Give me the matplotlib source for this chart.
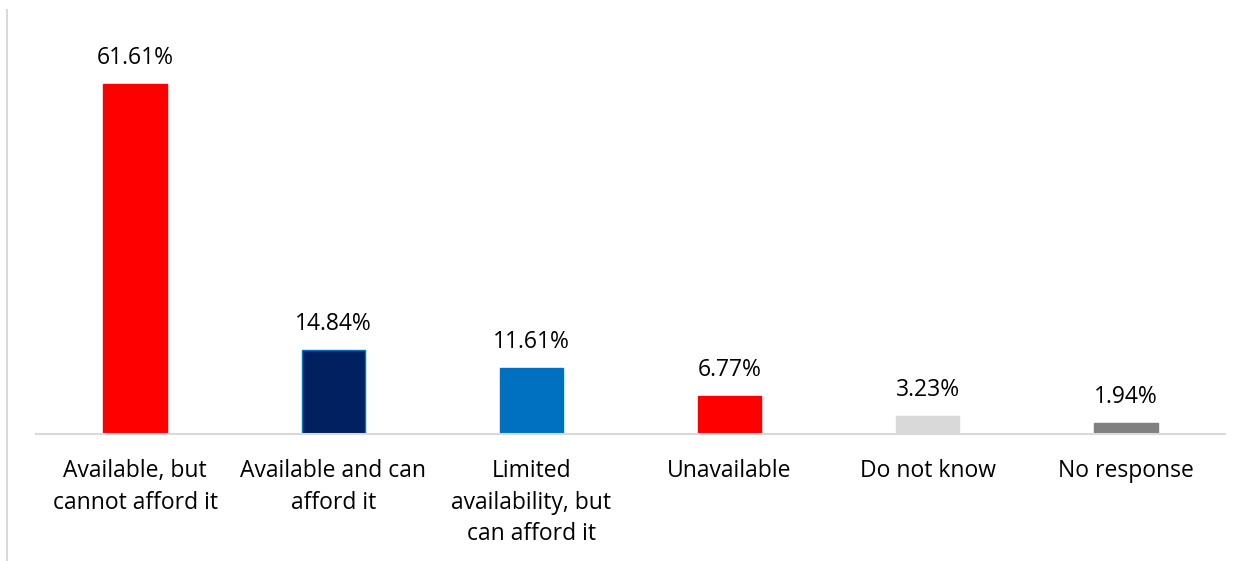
import matplotlib.pyplot as plt
from matplotlib.lines import Line2D

# chart data
categories = [
    "Available, but\ncannot afford it",
    "Available and can\nafford it",
    "Limited\navailability, but\ncan afford it",
    "Unavailable",
    "Do not know",
    "No response",
]
values = [61.61, 14.84, 11.61, 6.77, 3.23, 1.94]
colors = ["#FF0000", "#002060", "#0070C0", "#FF0000", "#D9D9D9", "#808080"]
edges = ["#FF0000", "#0070C0", "#0070C0", "#FF0000", "#D9D9D9", "#808080"]

plt.rcParams['font.family'] = ['Open Sans', 'DejaVu Sans']

fig = plt.figure(figsize=(12.53, 5.61), dpi=100)
ax = fig.add_axes([36 / 1253, 127 / 561, 1189 / 1253, 424 / 561])

x = range(len(categories))
bars = ax.bar(x, values, width=0.32, color=colors, edgecolor=edges, linewidth=1)

for b, v in zip(bars, values):
    ax.annotate(f"{v:.2f}%", (b.get_x() + b.get_width() / 2, v),
                xytext=(0, 10), textcoords="offset points",
                ha="center", va="bottom", fontsize=16.5, color="#000000")

ax.set_xlim(-0.5, 5.5)
ax.set_ylim(0, 424 / 5.68)
ax.set_xticks(list(x))
ax.set_xticklabels(categories, fontsize=16.5, linespacing=1.42, va="top")
ax.tick_params(axis="x", length=0, pad=18)
ax.set_yticks([])

for side in ["top", "right", "left"]:
    ax.spines[side].set_visible(False)
ax.spines["bottom"].set_color("#D9D9D9")
ax.spines["bottom"].set_linewidth(1.5)

# thin border at left edge of the chart area
fig.add_artist(Line2D([7 / 1253, 7 / 1253], [0, 1 - 10 / 561],
                      transform=fig.transFigure, color="#D9D9D9", linewidth=1.5))

fig.savefig("out.png", dpi=100)
